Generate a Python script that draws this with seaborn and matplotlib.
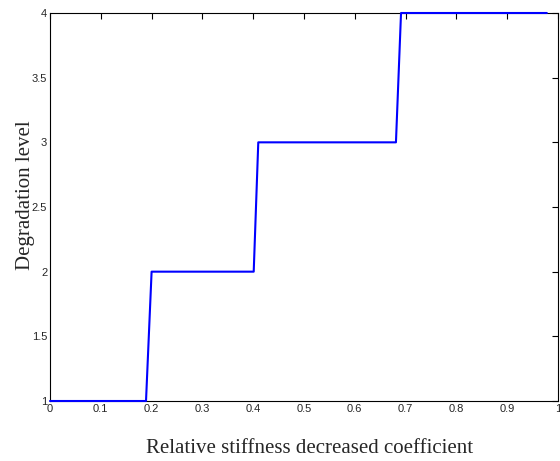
import matplotlib
matplotlib.use("Agg")
import matplotlib.pyplot as plt
import seaborn as sns
import pandas as pd

# 退化レベルの折れ線（読み取り値）
coef = [0.0, 0.189, 0.200, 0.401, 0.410, 0.681, 0.691, 0.978]
level = [1, 1, 2, 2, 3, 3, 4, 4]

x_ticks = [0, 0.1, 0.2, 0.3, 0.4, 0.5, 0.6, 0.7, 0.8, 0.9, 1]
x_tick_labels = ["0", "0.1", "0.2", "0.3", "0.4", "0.5", "0.6", "0.7", "0.8", "0.9", "1"]
y_ticks = [1, 1.5, 2, 2.5, 3, 3.5, 4]
y_tick_labels = ["1", "1.5", "2", "2.5", "3", "3.5", "4"]

data = pd.DataFrame({"coef": coef, "level": level})

sns.set_style("white")
plt.rcParams["font.family"] = ["Liberation Sans", "DejaVu Sans"]

fig = plt.figure(figsize=(5.6, 4.61), dpi=100)
ax = fig.add_axes([50 / 560, 60 / 461, 508 / 560, 388 / 461])

sns.lineplot(data=data, x="coef", y="level", ax=ax, color="#0000ff",
             linewidth=1.5, sort=False, estimator=None, zorder=5)
for ln in ax.lines:
    ln.set_clip_on(False)

ax.set_xlim(0, 1)
ax.set_ylim(1, 4)
ax.set_xticks(x_ticks)
ax.set_xticklabels(x_tick_labels)
ax.set_yticks(y_ticks)
ax.set_yticklabels(y_tick_labels)
ax.tick_params(direction="in", length=4, width=0.8, labelsize=8, color="black",
               top=True, right=True, pad=2)
for s in ax.spines.values():
    s.set_color("black")
    s.set_linewidth(0.8)
    s.set_visible(True)

ax.set_xlabel("Relative stiffness decreased coefficient", family="Liberation Serif",
              fontsize=15)
ax.set_ylabel("Degradation level", family="Liberation Serif", fontsize=15)
ax.xaxis.set_label_coords(0.51, -0.097)
ax.yaxis.set_label_coords(-0.029, 0.53)

fig.savefig("out.png", dpi=100)
